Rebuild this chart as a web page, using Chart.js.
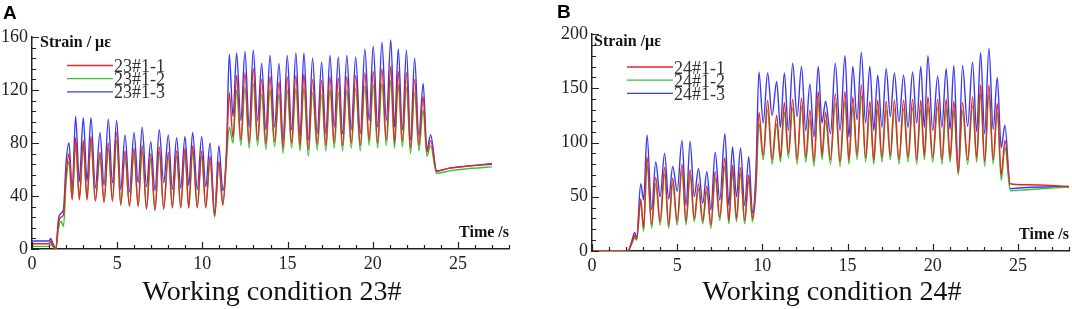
<!DOCTYPE html>
<html>
<head>
<meta charset="utf-8">
<script src="https://cdn.jsdelivr.net/npm/chart.js@4.4.1/dist/chart.umd.min.js"></script>
<style>
body{margin:0;background:#fff}
#wrap{position:relative;width:1072px;height:309px;overflow:hidden}
canvas{position:absolute;top:0}
.tag{position:absolute;font:bold 19px "Liberation Sans",Arial,sans-serif;color:#000;line-height:24px}
.cap{position:absolute;width:536px;text-align:center;font:28px "Liberation Serif","Times New Roman",serif;color:#111;line-height:28px;top:277px;white-space:nowrap}
</style>
</head>
<body>
<div id="wrap">
<canvas id="chartA" width="536" height="309" style="left:0"></canvas>
<canvas id="chartB" width="536" height="309" style="left:536px"></canvas>
<div class="tag" style="left:3px;top:1px">A</div>
<div class="tag" style="left:557px;top:0">B</div>
<div class="cap" style="left:4px">Working condition 23#</div>
<div class="cap" style="left:564px">Working condition 24#</div>
</div>
<script>
// ---- data: working condition 23# (time in s, strain in microstrain)
var timeA = [0, 1.0, 1.1, 1.2, 1.4, 1.55, 1.7, 1.85, 2.0,
  2.17, 2.36, 2.56, 2.78, 3.01, 3.23, 3.46, 3.72, 3.99, 4.23, 4.48, 4.72, 4.97, 5.21, 5.46, 5.72, 5.99, 6.23, 6.47, 6.72,
  6.97, 7.22, 7.47, 7.73, 8.00, 8.24, 8.49, 8.73, 8.98, 9.2, 9.43, 9.7, 9.96, 10.2, 10.45, 10.72, 10.97, 11.2, 11.42,
  11.58, 11.8, 12.01, 12.26, 12.5, 12.75, 12.99, 13.24, 13.48, 13.73, 13.97, 14.24, 14.5, 14.74, 14.98, 15.24, 15.49, 15.73,
  15.96, 16.22, 16.47, 16.74, 17.0, 17.25, 17.49, 17.74, 17.98, 18.23, 18.48, 18.74, 19.0, 19.27, 19.54, 19.79, 20.03, 20.29,
  20.54, 20.8, 21.06, 21.28, 21.5, 21.74, 21.98, 22.22, 22.46, 22.71, 22.96, 23.18, 23.4,
  23.75, 24.5, 25.5, 27.0];
var a23_1 = [4, 4, 6, 3, 0, 19, 24, 26, 55,
  72,37,84,37,82,37,85,36,73,35,80,36,88,33,74,32,76,32,78,30,72,29,77,30,73,31,74,31,76,31,78,31,74,31,70,25,66,33,72,
  118,84,131,82,133,80,136,82,128,79,130,81,126,76,130,80,131,78,132,75,128,79,127,78,130,80,129,78,130,80,131,78,133,82,
  134,80,136,82,138,80,134,81,133,76,128,78,115,73,82,
  58.5, 61, 62.5, 64.5];
var a23_2 = [2, 2, 4, 2, 0, 15, 21, 17, 50,
  66,38,79,38,78,38,80,37,70,36,76,37,82,34,70,33,72,33,74,31,68,30,73,31,70,32,70,32,72,31,74,32,70,32,66,24,63,34,68,
  92,80,120,78,122,76,125,78,117,75,120,77,117,72,120,76,121,74,122,70,118,75,116,74,120,76,118,74,120,76,121,74,123,78,
  124,76,125,78,127,76,124,77,122,72,118,74,105,70,78,
  57, 59, 60.5, 62];
var a23_3 = [6, 6, 8, 5, 0, 22, 27, 30, 65,
  80,45,100,51,99,51,99,46,88,48,98,50,97,45,86,43,88,50,92,47,81,44,90,50,86,45,84,46,85,48,88,45,85,47,80,27,78,44,76,
  147,100,148,97,149,92,150,97,140,90,146,92,140,82,146,90,148,85,148,82,144,87,141,87,146,92,145,87,146,90,145,87,151,97,
  153,92,156,97,158,92,151,90,150,82,144,85,125,75,86,
  59, 61, 62.5, 64];

// ---- data: working condition 24#
var timeB = [0, 2.1, 2.35, 2.5, 2.62,
  2.86, 3.03, 3.23, 3.5, 3.74, 4.0, 4.26, 4.5, 4.74, 5.0, 5.28, 5.52, 5.76, 6.0, 6.25, 6.5, 6.74, 6.98, 7.23, 7.5, 7.8,
  8.03, 8.25, 8.48, 8.72, 8.96, 9.2, 9.42, 9.62,
  9.8, 10.05, 10.31, 10.57, 10.84, 11.06, 11.29, 11.53, 11.78, 12.04, 12.3, 12.55, 12.79, 13.03, 13.28, 13.5, 13.71, 14.0,
  14.28, 14.56, 14.85, 15.08, 15.31, 15.56, 15.81, 16.06, 16.31, 16.54, 16.77, 17.02, 17.27, 17.51, 17.75, 18.02, 18.29,
  18.55, 18.82, 19.06, 19.3, 19.51, 19.72, 20.0, 20.29, 20.54, 20.79, 21.02, 21.24, 21.5, 21.75, 22.05, 22.34, 22.58,
  22.81, 23.05, 23.3, 23.55, 23.79, 24.02, 24.24,
  24.55, 25.5, 28.0];
var b24_1 = [0, 0, 8, 14, 11,
  48,21,87,24,68,27,77,24,67,27,80,27,75,30,62,28,60,24,73,31,86,28,79,30,77,28,70,30,60,
  128,88,139,84,125,86,137,90,140,84,141,86,130,82,147,88,128,84,145,82,147,84,142,88,153,86,138,84,139,86,138,88,139,84,
  139,86,140,84,139,88,142,86,140,84,140,86,138,72,137,84,142,86,153,82,153,84,136,70,102,
  62, 61, 59.5];
var b24_2 = [0, 0, 7, 12, 10,
  45,18,80,21,62,24,71,21,62,24,74,24,70,27,57,25,55,21,67,28,78,25,73,27,71,25,65,27,56,
  118,84,130,80,117,82,128,86,132,80,133,82,121,78,138,84,120,80,136,78,138,80,133,84,143,82,130,80,131,82,130,84,131,80,
  131,82,132,80,131,84,133,82,132,80,132,82,130,70,129,80,134,82,145,78,145,80,128,65,96,
  55.5, 56.5, 59];
var b24_3 = [0, 0, 10, 17, 13,
  62,47,107,38,82,50,90,48,78,55,102,42,101,50,76,44,73,38,91,47,108,42,96,50,95,42,87,35,72,
  165,118,164,125,156,114,164,111,173,124,170,111,154,105,170,118,138,108,173,111,180,105,170,121,183,118,170,111,162,114,
  168,124,164,119,162,114,165,118,170,114,180,111,161,114,168,112,171,73,171,115,174,110,183,108,187,112,160,95,116,
  57.5, 58.5, 59.5];

var namesA = ['23#1-1', '23#1-2', '23#1-3'];
var namesB = ['24#1-1', '24#1-2', '24#1-3'];
var xTicks = [0, 5, 10, 15, 20, 25];
var yTicksA = [0, 40, 80, 120, 160];
var yTicksB = [0, 50, 100, 150, 200];

var colors = ['#e32828', '#33c633', '#3a3af0'];
var serif = '"Liberation Serif", "Times New Roman", serif';

// axis ticks pointing inwards, axis titles and the in-plot legend
var decor = {
  id: 'decor',
  afterDraw: function (chart, args, o) {
    var ctx = chart.ctx, a = chart.chartArea, xs = chart.scales.x, ys = chart.scales.y;
    ctx.save();
    ctx.strokeStyle = '#222';
    ctx.lineWidth = 1.2;
    ctx.beginPath();
    var xs5 = o.xMajor / 5;
    for (var v = xs.min; v <= xs.max + 1e-6; v += xs5) {
      var px = Math.round(xs.getPixelForValue(v)) + 0.5;
      var big = Math.abs(v / o.xMajor - Math.round(v / o.xMajor)) < 1e-6;
      ctx.moveTo(px, a.bottom);
      ctx.lineTo(px, a.bottom - (big ? 7 : 4));
    }
    var ys5 = o.yMajor / 5;
    for (var w = ys.min; w <= ys.max + 1e-6; w += ys5) {
      var py = Math.round(ys.getPixelForValue(w)) + 0.5;
      var big2 = Math.abs(w / o.yMajor - Math.round(w / o.yMajor)) < 1e-6;
      ctx.moveTo(a.left, py);
      ctx.lineTo(a.left + (big2 ? 7 : 4), py);
    }
    ctx.stroke();

    ctx.fillStyle = '#111';
    ctx.font = 'bold 16px ' + serif;
    ctx.textAlign = 'left';
    ctx.fillText(o.yTitle, o.yTitleX, o.yTitleY);
    ctx.textAlign = 'right';
    ctx.fillText(o.xTitle, a.right, o.xTitleY);

    ctx.font = '18px ' + serif;
    ctx.textAlign = 'left';
    chart.data.datasets.forEach(function (ds, i) {
      var by = o.legY + i * o.legDy;
      ctx.strokeStyle = ds.borderColor;
      ctx.lineWidth = 1.3;
      ctx.beginPath();
      ctx.moveTo(o.legX, by - 6.5);
      ctx.lineTo(o.legX + 46, by - 6.5);
      ctx.stroke();
      ctx.fillStyle = '#333';
      ctx.fillText(ds.label, o.legX + 47, by);
    });
    ctx.restore();
  }
};

function build(id, t, series, names, yTicks, yMax, box, deco) {
  var ds = series.map(function (s, i) {
    return {
      label: names[i],
      data: t.map(function (x, k) { return {x: x, y: s[k]}; }),
      borderColor: colors[i],
      borderWidth: 1.4,
      pointRadius: 0,
      cubicInterpolationMode: 'monotone',
      fill: false
    };
  });
  return new Chart(document.getElementById(id), {
    type: 'line',
    data: {datasets: ds},
    options: {
      responsive: false,
      animation: false,
      layout: {padding: {top: box.top, right: box.right, left: 0, bottom: 0}},
      plugins: {legend: {display: false}, tooltip: {enabled: false}, decor: deco},
      scales: {
        x: {
          type: 'linear', min: 0, max: 28,
          grid: {display: false, drawTicks: false},
          border: {display: true, color: '#222', width: 1.5},
          ticks: {font: {family: serif, size: 18}, color: '#222', padding: 4, includeBounds: false},
          afterBuildTicks: function (sc) { sc.ticks = xTicks.map(function (v) { return {value: v}; }); },
          afterFit: function (sc) { sc.height = 309 - box.bottom; }
        },
        y: {
          type: 'linear', min: 0, max: yMax,
          grid: {display: false, drawTicks: false},
          border: {display: true, color: '#222', width: 1.5},
          ticks: {font: {family: serif, size: 18}, color: '#222', padding: 4, includeBounds: false},
          afterBuildTicks: function (sc) { sc.ticks = yTicks.map(function (v) { return {value: v}; }); },
          afterFit: function (sc) { sc.width = box.left; }
        }
      }
    },
    plugins: [decor]
  });
}

build('chartA', timeA, [a23_1, a23_2, a23_3], namesA, yTicksA, 160,
  {left: 32, right: 27, top: 37, bottom: 249},
  {xMajor: 5, yMajor: 40, yTitle: 'Strain / \u03bc\u03b5', yTitleX: 40, yTitleY: 47,
   xTitle: 'Time /s', xTitleY: 237, legX: 67, legY: 72, legDy: 13.2});
build('chartB', timeB, [b24_1, b24_2, b24_3], namesB, yTicksB, 200,
  {left: 56, right: 3, top: 34, bottom: 251},
  {xMajor: 5, yMajor: 50, yTitle: 'Strain /\u03bc\u03b5', yTitleX: 58, yTitleY: 46,
   xTitle: 'Time /s', xTitleY: 239, legX: 91, legY: 73.5, legDy: 13.2});
</script>
</body>
</html>
